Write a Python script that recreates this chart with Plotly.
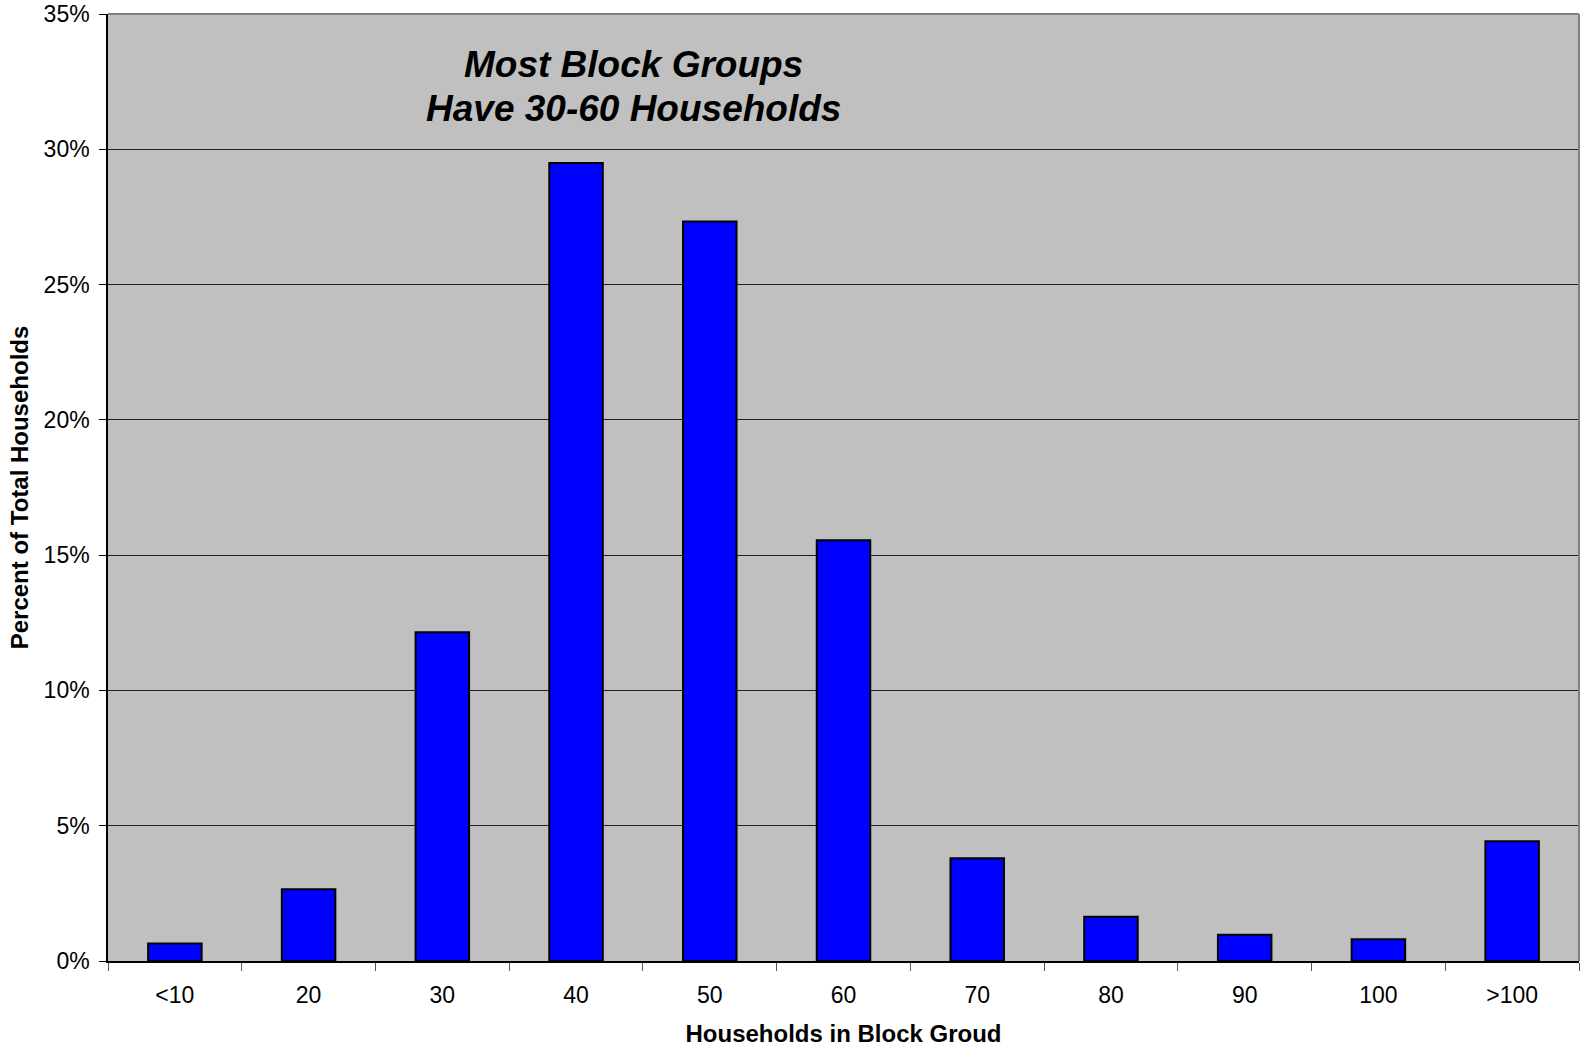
import plotly.graph_objects as go

categories = ["<10", "20", "30", "40", "50", "60", "70", "80", "90", "100", ">100"]
percent_values = [0.65, 2.65, 12.15, 29.49, 27.33, 15.55, 3.80, 1.64, 0.97, 0.80, 4.43]
y_tick_vals = [0, 5, 10, 15, 20, 25, 30, 35]
y_tick_text = ["0%", "5%", "10%", "15%", "20%", "25%", "30%", "35%"]
title_lines = ["Most Block Groups", "Have 30-60 Households"]

FONT = "Liberation Sans, Arial, sans-serif"

fig = go.Figure()
fig.add_trace(go.Bar(
    x=categories,
    y=percent_values,
    marker=dict(color="#0000FF", line=dict(color="#000000", width=2)),
    hoverinfo="x+y",
))

# plot area is 947 px tall (top at 14 px); line centres at 64 and 108 px from page top
line_centres_px = [64, 108]
annotations = [
    dict(
        text="<b><i>" + txt + "</i></b>",
        xref="paper", yref="paper",
        x=0.357, y=(947 - (py - 14)) / 947,
        xanchor="center", yanchor="middle",
        showarrow=False,
        font=dict(size=37, family=FONT, color="#000000"),
    )
    for txt, py in zip(title_lines, line_centres_px)
]

fig.update_layout(
    width=1581,
    height=1047,
    margin=dict(l=108, r=2, t=14, b=86),
    paper_bgcolor="#FFFFFF",
    plot_bgcolor="#C0C0C0",
    bargap=0.6,
    showlegend=False,
    font=dict(family=FONT, color="#000000", size=23),
    xaxis=dict(
        type="category",
        tickson="boundaries",
        ticks="outside",
        ticklen=8,
        tickcolor="#555555",
        tickwidth=1,
        ticklabelstandoff=13,
        showline=True,
        linecolor="#000000",
        linewidth=1.5,
        showgrid=False,
        tickfont=dict(size=23),
        automargin=False,
        title=dict(text="<b>Households in Block Groud</b>", font=dict(size=24), standoff=21),
    ),
    yaxis=dict(
        range=[0, 35],
        tickvals=y_tick_vals,
        ticktext=y_tick_text,
        ticks="outside",
        ticklen=7,
        tickcolor="#000000",
        ticklabelstandoff=5,
        showline=True,
        linecolor="#000000",
        linewidth=1.5,
        showgrid=True,
        gridcolor="#202020",
        gridwidth=1,
        zeroline=False,
        tickfont=dict(size=23),
        automargin=False,
        title=dict(text="<b>Percent of Total Households</b>", font=dict(size=24), standoff=8),
    ),
    annotations=annotations,
    shapes=[
        dict(type="line", xref="paper", yref="paper", x0=0, x1=1, y0=1, y1=1,
             line=dict(color="#808080", width=2)),
        dict(type="line", xref="paper", yref="paper", x0=1, x1=1, y0=0, y1=1,
             line=dict(color="#808080", width=2)),
    ],
)

fig.write_html("out.html")
